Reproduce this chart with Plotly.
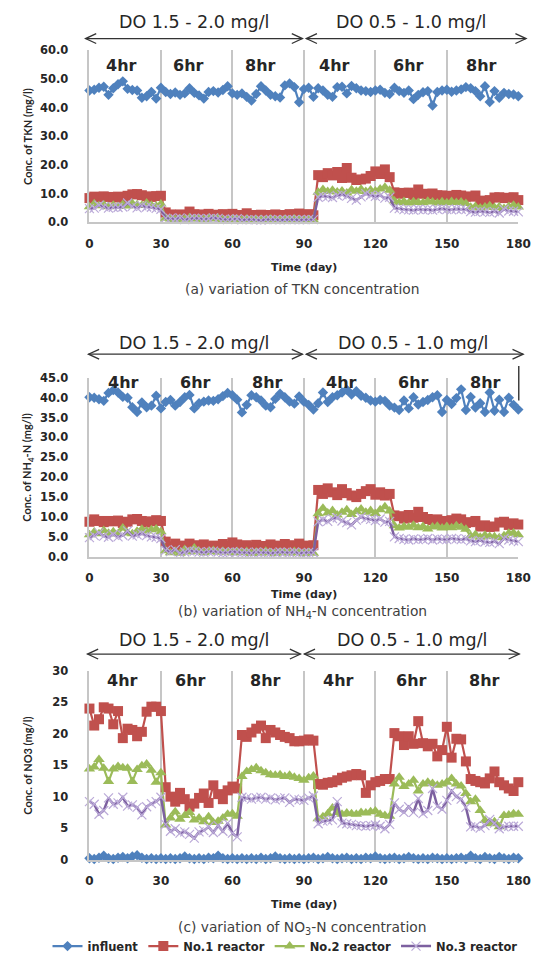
import plotly.graph_objects as go

# The page puts an 8 px margin round the figure, so the figure is sized to the visible area
# (549-16 by 969-16) and every placement below is given in page pixels and converted.
OFF = 8
W, H = 533, 953

# ---------------- data ----------------
DAYS = [0, 2, 4, 6, 8, 10, 12, 14, 16, 18, 20, 22, 24, 26, 28, 30,
        32, 34, 36, 38, 40, 42, 44, 46, 48, 50, 52, 54, 56, 58, 60, 62,
        64, 66, 68, 70, 72, 74, 76, 78, 80, 82, 84, 86, 88, 90, 92, 94,
        96, 98, 100, 102, 104, 106, 108, 110, 112, 114, 116, 118, 120, 122, 124, 126,
        128, 130, 132, 134, 136, 138, 140, 142, 144, 146, 148, 150, 152, 154, 156, 158,
        160, 162, 164, 166, 168, 170, 172, 174, 176, 178, 180]
X_TICKS = [0, 30, 60, 90, 120, 150, 180]
SERIES_NAMES = ["influent", "No.1 reactor", "No.2 reactor", "No.3 reactor"]

# (a) TKN
TKN_INFLUENT = [46.0, 46.3, 47.0, 47.3, 44.5, 46.8, 48.2, 49.2, 46.6, 46.2, 46.0, 43.5, 44.0, 45.5, 43.2, 47.0,
                45.5, 44.8, 45.3, 44.5, 45.0, 46.8, 45.2, 44.3, 43.2, 45.5, 45.8, 45.3, 46.2, 47.5, 45.0, 44.5,
                45.0, 43.8, 42.5, 44.8, 47.5, 46.0, 44.5, 44.0, 43.6, 47.8, 48.5, 47.2, 41.9, 46.5, 47.0, 43.8,
                46.8, 46.0, 44.5, 43.8, 47.2, 47.3, 45.0, 47.6, 46.8, 46.0, 45.8, 45.5, 46.0, 46.3, 45.2, 44.8,
                47.0, 45.8, 45.2, 46.0, 43.0, 44.5, 45.4, 45.8, 40.8, 45.5, 46.0, 46.3, 45.6, 46.0, 46.4, 47.2,
                46.8, 45.8, 44.0, 47.5, 42.0, 45.8, 43.5, 45.2, 44.8, 44.6, 44.0]
TKN_R1 = [8.5, 9.0, 8.8, 9.1, 8.9, 8.7, 9.0, 8.6, 9.3, 9.8, 9.9, 9.5, 9.1, 8.9, 9.2, 9.3,
          3.5, 2.8, 2.5, 2.8, 2.6, 3.8, 2.9, 2.4, 2.8, 3.0, 2.5, 2.7, 2.9, 2.4, 3.0, 2.6,
          2.5, 3.2, 2.6, 2.4, 2.7, 2.4, 2.6, 2.8, 2.6, 2.5, 2.9, 2.7, 3.1, 2.6, 2.9, 2.5,
          16.5, 15.8, 17.2, 16.4, 17.6, 15.5, 19.0, 15.6, 14.8, 15.0, 15.3, 16.2, 17.8, 16.9, 18.5, 15.8,
          10.5, 10.0, 10.3, 10.4, 9.6, 11.5, 10.0, 9.8, 10.1, 9.5, 9.4, 9.3, 9.2, 9.6, 9.4, 9.0,
          9.0, 9.4, 7.6, 7.5, 7.8, 8.7, 8.8, 8.5, 8.6, 8.8, 7.8]
TKN_R2 = [5.5, 6.5, 5.8, 6.2, 5.5, 6.0, 5.6, 6.3, 5.7, 6.6, 6.2, 5.9, 6.8, 6.0, 5.7, 6.4,
          1.5, 1.2, 1.0, 1.4, 1.1, 1.6, 1.2, 1.3, 1.0, 1.4, 1.2, 1.5, 1.0, 0.9, 1.2, 1.1,
          0.9, 1.2, 0.8, 1.0, 1.1, 0.9, 1.2, 0.8, 1.0, 1.1, 0.9, 1.2, 1.0, 0.8, 1.0, 0.9,
          10.5, 11.5, 10.8, 11.2, 10.6, 11.0, 10.3, 11.4, 10.9, 11.6, 10.8, 11.3, 11.0, 11.7, 12.3, 11.2,
          7.5, 7.0, 7.3, 6.8, 7.2, 7.0, 6.9, 7.4, 7.1, 6.8, 7.2, 6.9, 7.3, 7.0, 7.1, 6.6,
          5.3, 5.6, 5.0, 5.4, 5.8, 5.2, 5.5, 4.9, 5.6, 6.0, 5.4]
TKN_R3 = [4.8, 5.0, 6.0, 5.5, 5.0, 5.3, 5.2, 5.4, 6.8, 5.6, 5.1, 5.8, 5.4, 5.3, 4.9, 4.6,
          1.5, 1.4, 1.2, 1.6, 1.0, 1.3, 1.5, 1.4, 1.2, 1.3, 1.6, 1.4, 1.1, 1.0, 1.2, 1.3,
          0.9, 1.0, 1.1, 0.9, 0.8, 1.0, 1.1, 1.0, 0.9, 1.0, 1.1, 1.0, 0.9, 1.0, 1.1, 1.0,
          8.8, 9.2, 9.0, 8.7, 9.4, 9.7, 9.2, 8.4, 7.8, 8.9, 10.0, 9.5, 9.1, 9.4, 8.5, 8.8,
          5.0, 4.8, 4.5, 4.4, 4.3, 4.6, 4.4, 4.5, 4.3, 4.6, 4.8, 4.5, 4.4, 4.7, 4.6, 4.5,
          3.8, 3.6, 3.9, 3.7, 3.5, 3.8, 3.3, 4.6, 4.0, 3.9, 3.7]

# (b) NH4-N
NH4_INFLUENT = [40.1, 40.0, 39.6, 39.2, 41.2, 41.9, 41.3, 40.2, 40.0, 37.6, 36.4, 38.8, 37.6, 38.0, 40.5, 37.3,
                38.9, 39.4, 38.0, 38.9, 40.1, 40.7, 37.3, 38.6, 39.0, 39.3, 39.2, 39.6, 40.4, 41.2, 40.6, 39.5,
                36.3, 38.2, 40.6, 40.1, 39.3, 38.0, 37.6, 39.7, 41.0, 40.1, 39.0, 38.5, 40.3, 39.0, 38.2, 37.0,
                38.6, 41.3, 38.9, 40.1, 40.6, 41.3, 42.0, 40.8, 41.6, 40.5, 40.0, 39.3, 39.0, 39.4, 39.2, 38.0,
                37.5, 36.9, 39.3, 37.3, 40.1, 38.3, 38.9, 39.4, 40.1, 40.6, 36.4, 39.4, 38.4, 39.9, 42.1, 36.9,
                40.2, 37.5, 38.6, 36.4, 41.3, 36.7, 39.5, 36.4, 40.0, 38.2, 37.0]
NH4_R1 = [8.8, 9.4, 9.0, 8.7, 9.0, 8.9, 9.1, 8.5, 8.8, 9.4, 9.5, 9.0, 8.6, 8.9, 9.2, 9.0,
          3.8, 2.6, 3.3, 2.4, 2.8, 3.3, 2.9, 2.6, 3.1, 2.5, 2.8, 2.6, 3.2, 2.7, 3.6, 3.1,
          2.6, 2.9, 2.5, 3.0, 2.7, 2.5, 3.1, 2.8, 2.6, 3.2, 2.9, 2.7, 3.3, 2.8, 2.6, 2.9,
          16.8, 15.8, 17.2, 16.2, 15.5, 17.0, 16.0, 15.4, 15.0, 15.8, 16.5, 17.0, 15.6, 16.2, 15.4, 15.8,
          10.4, 10.2, 9.6, 10.5, 9.8, 11.3, 10.0, 9.5, 9.2, 9.4, 9.0, 8.8, 9.2, 9.6, 9.4, 8.5,
          8.7, 9.0, 7.6, 7.9, 7.5, 7.6, 8.6, 8.8, 8.0, 8.4, 8.1]
NH4_R2 = [5.5, 6.2, 5.8, 6.6, 5.9, 6.3, 5.7, 7.2, 6.0, 5.8, 6.4, 6.9, 6.5, 6.8, 7.0, 6.3,
          1.5, 1.0, 1.4, 0.9, 1.8, 1.2, 2.2, 1.4, 1.0, 1.3, 1.6, 1.1, 1.4, 1.2, 1.0, 1.3,
          1.0, 1.3, 0.8, 1.2, 0.9, 1.4, 1.0, 0.8, 1.2, 1.1, 0.9, 1.3, 1.0, 0.8, 1.1, 0.9,
          10.8, 12.2, 11.0, 11.6, 10.5, 11.2, 11.8, 10.6, 11.4, 12.0, 11.2, 11.6, 10.9, 11.8, 12.6, 11.5,
          7.8, 7.2, 7.6, 7.4, 7.9, 7.3, 7.6, 7.0, 7.5, 7.7, 7.2, 7.6, 7.3, 7.8, 7.4, 6.9,
          5.2, 5.6, 4.9, 5.4, 5.1, 5.0, 4.8, 5.3, 5.9, 6.0, 5.5]
NH4_R3 = [4.8, 5.3, 6.0, 5.2, 4.9, 5.6, 5.0, 5.4, 6.5, 5.2, 5.5, 5.8, 5.3, 5.0, 4.9, 4.6,
          1.6, 1.3, 1.8, 0.9, 1.2, 1.5, 1.4, 1.2, 1.1, 1.3, 1.4, 1.2, 1.0, 1.1, 1.3, 1.2,
          1.0, 1.1, 0.9, 1.2, 1.0, 1.1, 0.9, 1.0, 1.2, 1.1, 1.0, 1.2, 0.9, 1.0, 1.1, 1.0,
          8.8, 9.3, 8.9, 9.6, 9.8, 9.0, 8.6, 8.0, 9.2, 10.0, 9.6, 9.4, 9.1, 9.5, 8.7, 8.9,
          5.0, 4.6, 4.4, 4.2, 4.5, 4.3, 4.4, 4.6, 4.2, 4.5, 4.4, 4.3, 4.6, 4.5, 4.3, 4.5,
          4.0, 3.8, 4.1, 3.7, 3.6, 3.8, 3.3, 4.6, 4.2, 4.0, 3.8]

# (c) NO3-N
NO3_INFLUENT = [0.2, 0.1, 0.3, 0.6, 0.2, 0.1, 0.3, 0.4, 0.2, 0.5, 0.7, 0.3, 0.1, 0.2, 0.1, 0.2,
                0.1, 0.2, 0.1, 0.2, 0.5, 0.2, 0.1, 0.2, 0.1, 0.3, 0.2, 0.6, 0.2, 0.1, 0.2, 0.1,
                0.2, 0.1, 0.2, 0.1, 0.3, 0.1, 0.2, 0.5, 0.2, 0.1, 0.2, 0.1, 0.2, 0.1, 0.2, 0.3,
                0.1, 0.2, 0.4, 0.2, 0.1, 0.2, 0.3, 0.1, 0.2, 0.1, 0.3, 0.2, 0.5, 0.2, 0.1, 0.2,
                0.3, 0.1, 0.2, 0.4, 0.2, 0.1, 0.2, 0.1, 0.3, 0.2, 0.1, 0.2, 0.1, 0.2, 0.3, 0.1,
                0.6, 0.2, 0.1, 0.4, 0.2, 0.1, 0.4, 0.2, 0.1, 0.3, 0.2]
NO3_R1 = [24.0, 21.3, 22.3, 24.2, 24.0, 21.5, 23.6, 19.3, 20.8, 20.6, 19.6, 20.3, 23.5, 24.3, 24.3, 23.6,
          11.5, 10.0, 9.2, 10.6, 9.6, 8.4, 8.9, 9.8, 10.5, 9.0, 11.8, 10.4, 9.6, 11.0, 11.6, 11.3,
          19.8, 19.5, 20.2, 20.8, 21.3, 19.3, 20.6, 20.2, 19.8, 19.5, 19.3, 18.8, 18.8, 18.9, 19.1, 18.9,
          12.0, 11.9, 12.2, 12.3, 12.6, 13.0, 13.2, 13.4, 13.6, 13.4, 10.6, 11.8, 12.3, 12.5, 12.8, 12.8,
          20.1, 19.6, 18.2, 19.6, 18.4, 22.0, 18.5, 18.0, 18.4, 16.4, 17.4, 21.1, 16.2, 19.2, 19.1, 15.6,
          12.8, 12.5, 12.3, 12.1, 12.9, 14.0, 12.3, 11.8, 11.3, 10.9, 12.3]
NO3_R2 = [14.4, 14.7, 15.9, 14.5, 12.4, 14.4, 14.8, 14.6, 14.5, 12.4, 14.3, 14.9, 15.2, 14.2, 12.3, 13.8,
          5.5, 6.6, 7.6, 6.4, 7.0, 7.5, 6.3, 6.6, 6.0, 6.8, 5.9, 6.1, 6.6, 7.2, 7.3, 6.9,
          13.2, 14.0, 14.3, 14.6, 14.1, 13.8, 13.5, 13.4, 13.5, 13.2, 13.4, 13.1, 12.9, 12.6, 13.0, 13.3,
          6.5, 6.8, 7.3, 8.2, 7.5, 7.2, 7.4, 7.3, 7.2, 7.5, 7.4, 7.6, 7.7, 7.2, 7.0, 6.9,
          12.0, 13.1, 11.6, 12.0, 12.6, 10.9, 12.0, 12.3, 12.1, 11.8, 12.0, 12.3, 12.9, 12.0, 11.7, 10.5,
          9.2, 9.6, 7.8, 6.2, 5.7, 6.0, 5.2, 7.0, 7.1, 7.3, 7.2]
NO3_R3 = [9.2, 8.8, 7.2, 7.8, 9.8, 8.8, 9.0, 9.9, 8.5, 8.7, 8.3, 7.1, 8.4, 8.9, 9.2, 9.9,
          5.6, 4.5, 4.9, 4.2, 4.4, 4.0, 3.4, 4.4, 4.6, 5.2, 4.3, 5.4, 4.5, 5.8, 4.2, 3.6,
          9.9, 9.8, 9.6, 9.8, 9.9, 9.6, 9.8, 9.5, 9.7, 9.8, 9.1, 9.6, 9.5, 9.4, 9.8, 10.1,
          5.7, 6.1, 6.2, 6.3, 9.2, 5.8, 5.7, 5.6, 5.4, 5.4, 5.3, 5.4, 5.5, 5.3, 4.9, 5.6,
          9.0, 8.0, 7.5, 8.4, 7.5, 9.7, 7.3, 7.8, 11.3, 8.5, 8.0, 9.4, 10.9, 10.0, 9.6, 8.3,
          5.2, 5.3, 5.0, 5.4, 6.4, 5.8, 4.9, 5.2, 5.3, 5.3, 5.3]

PHASE_LABELS = ["4hr", "6hr", "8hr", "4hr", "6hr", "8hr"]
DO_LABELS = ["DO 1.5 - 2.0 mg/l", "DO 0.5 - 1.0 mg/l"]

# ---------------- styling ----------------
FONT = "DejaVu Sans"
TXT = "#262626"
GRID = "#c6c6c6"
STYLES = [
    dict(color="#4F81BD", marker=dict(symbol="diamond", size=8, color="#4F81BD"), width=2.2),
    dict(color="#C0504D", marker=dict(symbol="square", size=10, color="#C0504D"), width=2.2),
    dict(color="#9BBB59", marker=dict(symbol="triangle-up", size=10, color="#9BBB59"), width=2.2),
    dict(color="#7D60A0", marker=dict(symbol="x-thin", size=9, color="#BBAAD8",
                                      line=dict(width=1.2, color="#BBAAD8")), width=2.5),
]


def pxx(px):
    """page x pixel -> paper fraction"""
    return (px - OFF) / W


def pxy(py):
    """page y pixel -> paper fraction"""
    return 1 - (py - OFF) / H


X0, X1 = 88, 531
panels = [
    dict(data=(TKN_INFLUENT, TKN_R1, TKN_R2, TKN_R3), top=44, bottom=219, ymax=60, dtick=10, fmt=".1f",
         ytitle="Conc. of TKN (mg/l)", caption="(a) variation of TKN concentration",
         time_y=265, cap_y=287, do_y=15, arr_y=32, arrows=((84, 308), (312, 539)), do_x=(196, 420),
         phase_y=54.8, phase_x=(13.5, 41.5, 72, 103, 134, 164.6)),
    dict(data=(NH4_INFLUENT, NH4_R1, NH4_R2, NH4_R3), top=377, bottom=559, ymax=45, dtick=5, fmt=".1f",
         ytitle="Conc. of NH<sub>4</sub>-N (mg/l)",
         caption="(b) variation of NH<sub>4</sub>-N concentration",
         time_y=597, cap_y=615, do_y=342, arr_y=353, arrows=((87, 308), (312, 536)), do_x=(196, 422),
         phase_y=43.8, phase_x=(14.2, 44.7, 74.8, 105.7, 136.2, 166.2)),
    dict(data=(NO3_INFLUENT, NO3_R1, NO3_R2, NO3_R3), top=675, bottom=867, ymax=30, dtick=5, fmt="d",
         ytitle="Conc. of NO3 (mg/l)", caption="(c) variation of NO<sub>3</sub>-N concentration",
         time_y=913, cap_y=937, do_y=644, arr_y=658, arrows=((86, 306), (310, 532)), do_x=(196, 421),
         phase_y=28.4, phase_x=(14, 42.5, 73.8, 104.4, 135, 165.6)),
]

fig = go.Figure()
annotations = []
shapes = []


def paper_text(text, cx, cy, size, color=TXT, family=FONT, angle=0):
    return dict(text=text, xref="paper", yref="paper", x=pxx(cx), y=pxy(cy),
                xanchor="center", yanchor="middle", textangle=angle, showarrow=False,
                font=dict(family=family, size=size, color=color))


for i, p in enumerate(panels):
    n = "" if i == 0 else str(i + 1)
    xa, ya = "x" + n, "y" + n
    for k, (vals, st) in enumerate(zip(p["data"], STYLES)):
        fig.add_trace(go.Scatter(
            x=DAYS, y=vals, xaxis=xa, yaxis=ya, mode="lines+markers",
            name=SERIES_NAMES[k], legendgroup=SERIES_NAMES[k], showlegend=(i == 2),
            line=dict(color=st["color"], width=st["width"]), marker=st["marker"],
            cliponaxis=False,
        ))
    dom_y = [pxy(p["bottom"]), pxy(p["top"])]
    fig.update_layout(**{
        ("xaxis" + n): dict(domain=[pxx(X0), pxx(X1)], anchor=ya, range=[0, 180],
                            tickvals=X_TICKS, ticktext=[str(v) for v in X_TICKS],
                            showgrid=True, gridcolor=GRID, gridwidth=1.6,
                            showline=True, linecolor=GRID, linewidth=1.6,
                            zeroline=False, ticks="", ticklabelstandoff=9, ticklabeloverflow="allow",
                            tickfont=dict(family=FONT, size=12, color=TXT, weight="bold")),
        ("yaxis" + n): dict(domain=dom_y, anchor=xa, range=[0, p["ymax"]], dtick=p["dtick"],
                            tick0=0, tickformat=p["fmt"], showgrid=False, zeroline=False,
                            showline=True, linecolor=GRID, linewidth=1.6, ticks="",
                            ticklabelstandoff=17, ticklabeloverflow="allow",
                            tickfont=dict(family=FONT, size=11.5, color=TXT, weight="bold")),
    })
    # axis titles and caption
    annotations.append(paper_text("<b>" + p["ytitle"] + "</b>", 24, (p["top"] + p["bottom"]) / 2,
                                  11, family="Lato", angle=-90))
    annotations.append(paper_text("<b>Time (day)</b>", 310, p["time_y"], 11))
    annotations.append(paper_text(p["caption"], 308, p["cap_y"], 13.8, color="#404040"))
    # DO labels
    for lbl, cx in zip(DO_LABELS, p["do_x"]):
        annotations.append(paper_text(lbl, cx, p["do_y"], 17.5))
    # double arrows
    for (a0, a1) in p["arrows"]:
        yy = p["arr_y"]
        shapes.append(dict(type="line", xref="paper", yref="paper", x0=pxx(a0), x1=pxx(a1),
                           y0=pxy(yy), y1=pxy(yy), line=dict(color="#333333", width=1.3)))
        for tip, d in ((a0, 1), (a1, -1)):
            path = "M {:.5f},{:.5f} L {:.5f},{:.5f} L {:.5f},{:.5f}".format(
                pxx(tip + d * 11), pxy(yy - 5), pxx(tip), pxy(yy), pxx(tip + d * 11), pxy(yy + 5))
            shapes.append(dict(type="path", xref="paper", yref="paper", path=path,
                               line=dict(color="#333333", width=1.3)))
    # phase labels
    for lbl, dx in zip(PHASE_LABELS, p["phase_x"]):
        annotations.append(dict(text="<b>" + lbl + "</b>", xref=xa, yref=ya, x=dx, y=p["phase_y"],
                                xanchor="center", yanchor="middle", showarrow=False,
                                font=dict(family=FONT, size=16, color=TXT)))

# stray vertical stroke at the top right of panel (b)
shapes.append(dict(type="line", xref="paper", yref="paper", x0=pxx(531.5), x1=pxx(531.5),
                   y0=pxy(365), y1=pxy(400), line=dict(color="#111111", width=1.2)))

fig.update_layout(
    width=W, height=H, margin=dict(l=0, r=0, t=0, b=0),
    paper_bgcolor="white", plot_bgcolor="white",
    annotations=annotations, shapes=shapes,
    legend=dict(orientation="h", x=pxx(290), xanchor="center", y=pxy(955), yanchor="middle",
                font=dict(family=FONT, size=11.5, color=TXT, weight="bold"),
                itemwidth=30, tracegroupgap=0, bgcolor="rgba(0,0,0,0)"),
)

fig.write_html("out.html")
